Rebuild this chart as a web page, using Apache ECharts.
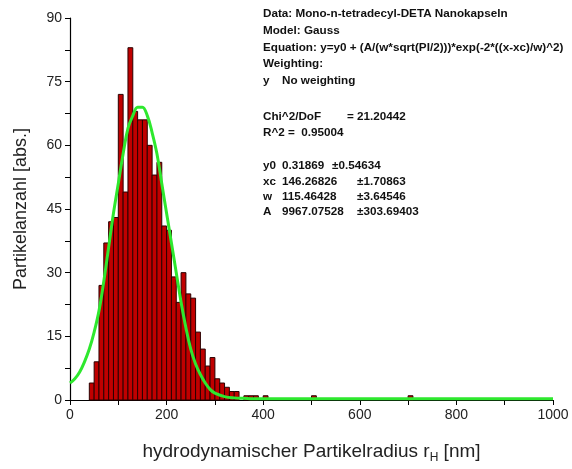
<!DOCTYPE html>
<html>
<head>
<meta charset="utf-8">
<script src="https://cdn.jsdelivr.net/npm/echarts@6/dist/echarts.min.js"></script>
<style>
  html, body { margin: 0; padding: 0; background: #fff; }
  #chart { width: 572px; height: 469px; }
</style>
</head>
<body>
<div id="chart"></div>
<script>
// histogram bins (left edge in nm, width 10 nm) and counts
const binWidth = 10;
const binLeft = [40, 50, 60, 70, 80, 90, 100, 110, 120, 130, 140, 150, 160, 170, 180, 190,
  200, 210, 220, 230, 240, 250, 260, 270, 280, 290, 300, 310, 320, 330, 340,
  360, 370, 380, 400, 500, 700];
const counts = [4, 9, 27, 37, 42, 43, 72, 49, 83, 68, 66, 66, 60, 53, 56, 41,
  40, 29, 23, 30, 25, 24, 16, 12, 8, 10, 5, 4, 3, 2, 2,
  1, 1, 1, 1, 1, 1];

// Gauss fit curve
const fitX = [0, 10, 20, 30, 40, 50, 60, 70, 80, 90, 100, 110, 120, 130, 140, 146, 150, 160,
  170, 180, 190, 200, 210, 220, 230, 240, 250, 260, 270, 280, 290, 300, 320, 340, 360,
  380, 400, 450, 500, 600, 700, 800, 900, 1000];
const fitY = [4, 5, 6.6, 9, 12, 16, 21, 28, 36, 44, 51, 58, 64, 67, 69, 69, 69, 67,
  63, 58, 51, 44, 37, 30, 23, 17, 12, 8.5, 6, 4, 2.5, 1.6, 0.8, 0.5, 0.4,
  0.3, 0.3, 0.3, 0.3, 0.3, 0.3, 0.3, 0.3, 0.3];

const fitText = [
  'Data: Mono-n-tetradecyl-DETA Nanokapseln',
  'Model: Gauss',
  'Equation: y=y0 + (A/(w*sqrt(PI/2)))*exp(-2*((x-xc)/w)^2)',
  'Weighting:'
];
const params = [
  ['y0', '0.31869', '\u00b10.54634'],
  ['xc', '146.26826', '\u00b11.70863'],
  ['w', '115.46428', '\u00b13.64546'],
  ['A', '9967.07528', '\u00b1303.69403']
];

const chart = echarts.init(document.getElementById('chart'));
const font = 'Liberation Sans, Arial, sans-serif';

const barData = binLeft.map((b, i) => [b, b + binWidth, counts[i]]);
const lineData = fitX.map((x, i) => [x, fitY[i]]);

const txt = (x, y, s) => ({
  type: 'text', left: x, top: y,
  style: { text: s, font: 'bold 11.7px ' + font, fill: '#111' }
});

const graphics = [];
fitText.forEach((s, i) => graphics.push(txt(263, 8 + i * 16.7, s)));
graphics.push(txt(263, 75, 'y'));
graphics.push(txt(282, 75, 'No weighting'));
graphics.push(txt(263, 111, 'Chi^2/DoF'));
graphics.push(txt(347, 111, '= 21.20442'));
graphics.push(txt(263, 127, 'R^2 =  0.95004'));
params.forEach((p, i) => {
  const y = 160 + i * 15.3;
  graphics.push(txt(263, y, p[0]));
  graphics.push(txt(282, y, p[1]));
  graphics.push(txt(i === 0 ? 332 : 357, y, p[2]));
});

chart.setOption({
  animation: false,
  grid: { left: 70, right: 19, top: 18, bottom: 67 },
  xAxis: {
    type: 'value', min: 0, max: 1000, interval: 100,
    name: 'hydrodynamischer Partikelradius r{sub|H} [nm]',
    nameLocation: 'middle', nameGap: 40,
    nameTextStyle: {
      fontFamily: font, fontSize: 19, color: '#222',
      rich: { sub: { fontFamily: font, fontSize: 12, color: '#222', padding: [12, 0, 0, 0] } }
    },
    axisLine: { lineStyle: { color: '#000', width: 1.2 } },
    axisTick: { length: 5, lineStyle: { color: '#000' } },
    axisLabel: {
      fontFamily: font, fontSize: 14, color: '#222', margin: 8,
      formatter: v => (v % 200 === 0 ? String(v) : '')
    },
    splitLine: { show: false }
  },
  yAxis: {
    type: 'value', min: 0, max: 90, interval: 7.5,
    name: 'Partikelanzahl [abs.]',
    nameLocation: 'middle', nameGap: 40,
    nameTextStyle: { fontFamily: font, fontSize: 18, color: '#222' },
    axisLine: { show: true, lineStyle: { color: '#000', width: 1.2 } },
    axisTick: { show: true, length: 5, lineStyle: { color: '#000' } },
    axisLabel: {
      fontFamily: font, fontSize: 14, color: '#222', margin: 8,
      formatter: v => (v % 15 === 0 ? String(v) : '')
    },
    splitLine: { show: false }
  },
  series: [
    {
      type: 'custom',
      data: barData,
      encode: { x: [0, 1], y: 2 },
      renderItem: function (params, api) {
        const p0 = api.coord([api.value(0), api.value(2)]);
        const p1 = api.coord([api.value(1), 0]);
        return {
          type: 'rect',
          shape: { x: p0[0], y: p0[1], width: p1[0] - p0[0], height: p1[1] - p0[1] },
          style: { fill: '#c00000', stroke: '#2a0000', lineWidth: 1 }
        };
      },
      z: 2
    },
    {
      type: 'line',
      data: lineData,
      smooth: 0.4,
      showSymbol: false,
      lineStyle: { color: '#2ee82e', width: 3 },
      z: 3
    }
  ],
  graphic: graphics
});
</script>
</body>
</html>
